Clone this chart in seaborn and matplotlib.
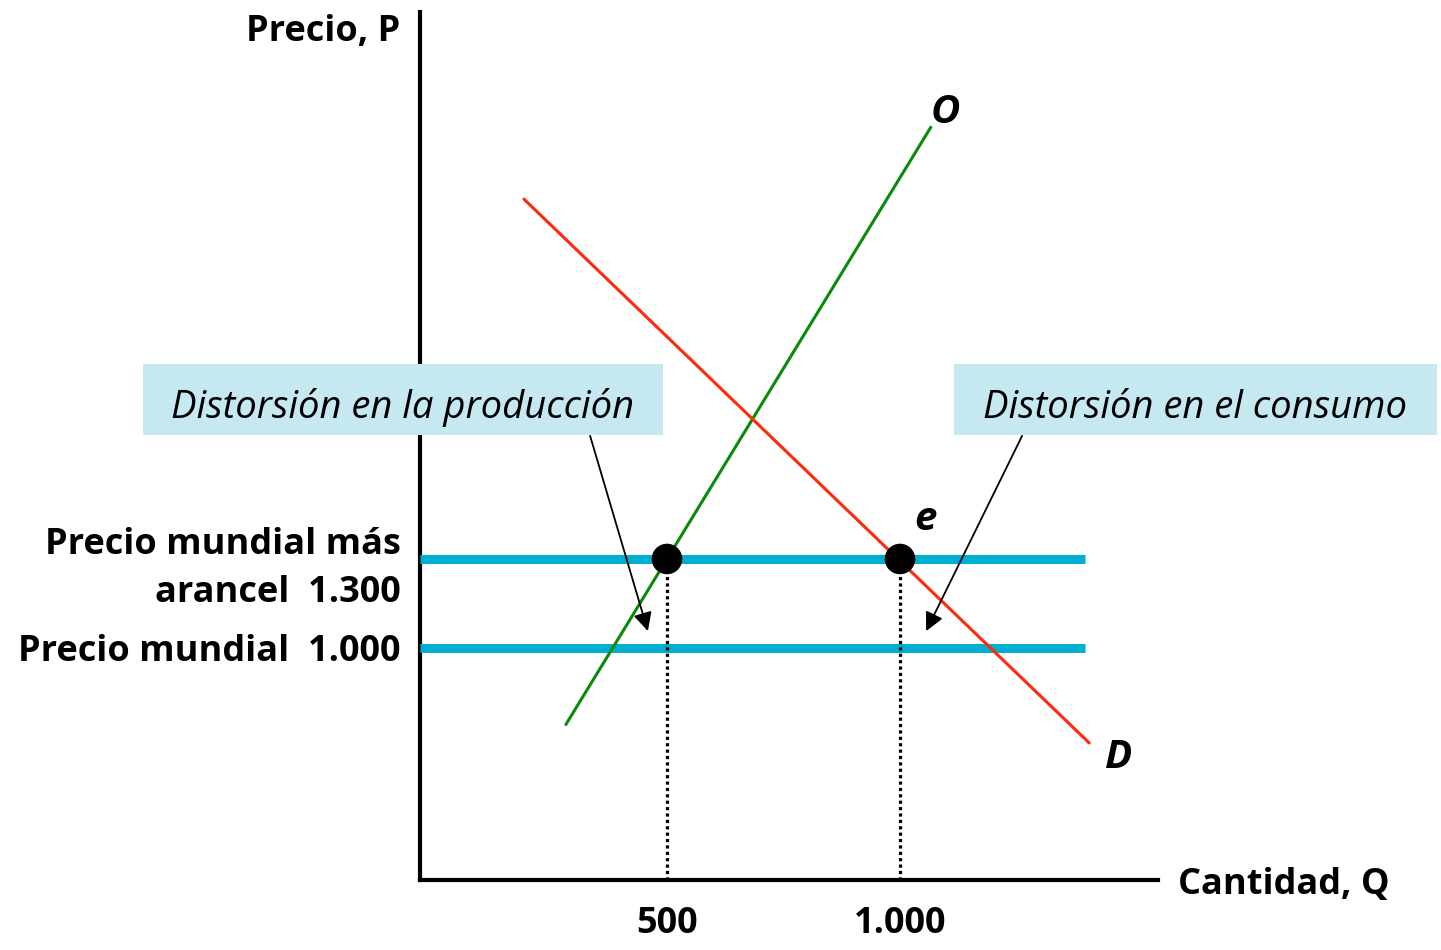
import numpy as np
import pandas as pd
import matplotlib
matplotlib.use("Agg")
import matplotlib.pyplot as plt
from matplotlib.patches import Rectangle
import seaborn as sns

# ---------------- data ----------------
supply_q = [283, 1066]
supply_p = [742, 2755]
demand_q = [193, 1406]
demand_p = [2513, 680]
world_price = 1000
tariff_price = 1300
price_line_q = [-30, 1397]
eq_q = [500, 1000]
eq_p = [1300, 1300]
x_ticks = [500, 1000]
x_tick_labels = ["500", "1.000"]
y_ticks = [1000, 1300]
y_tick_labels = ["Precio mundial  1.000", "Precio mundial más\narancel  1.300"]
box_labels = ["Distorsión en la producción", "Distorsión en el consumo"]

sns.set_theme(style="white")
plt.rcParams['font.family'] = ['Open Sans', 'DejaVu Sans']
plt.rcParams['text.color'] = 'black'
plt.rcParams['xtick.color'] = 'black'
plt.rcParams['ytick.color'] = 'black'
plt.rcParams['xtick.labelcolor'] = 'black'
plt.rcParams['ytick.labelcolor'] = 'black'

W, H = 1441, 950
fig = plt.figure(figsize=(W / 100, H / 100), dpi=100)
ax = fig.add_axes([420 / W, 70 / H, (1158 - 420) / W, (880 - 12) / H])
ax.set_xlim(-30, 1553.6)
ax.set_ylim(218, 3143.6)

for s in ["top", "right"]:
    ax.spines[s].set_visible(False)
for s in ["left", "bottom"]:
    ax.spines[s].set_linewidth(3)
    ax.spines[s].set_color("black")
    ax.spines[s].set_zorder(1)

cyan = "#00AECF"
df_s = pd.DataFrame({"q": supply_q, "p": supply_p})
df_d = pd.DataFrame({"q": demand_q, "p": demand_p})
for pr in [world_price, tariff_price]:
    ax.plot(price_line_q, [pr, pr], color=cyan, lw=6.5, solid_capstyle="butt", zorder=2, clip_on=False)
sns.lineplot(data=df_s, x="q", y="p", color="#0A8A0A", lw=2.2, ax=ax, zorder=3, sort=False)
sns.lineplot(data=df_d, x="q", y="p", color="#FF2A0A", lw=2.2, ax=ax, zorder=3, sort=False)

for q, p in zip(eq_q, eq_p):
    ax.plot([q, q], [ax.get_ylim()[0], p], color="black", lw=2.3, ls=(0, (1, 1)), zorder=2)
sns.scatterplot(x=eq_q, y=eq_p, s=22**2, color="black", edgecolor="none", ax=ax, zorder=5)

ax.set_xticks(x_ticks)
ax.set_xticklabels(x_tick_labels, fontsize=26, fontweight="bold", color="black")
ax.set_yticks(y_ticks)
ax.set_yticklabels(y_tick_labels, fontsize=26, fontweight="bold", multialignment="right",
                   linespacing=1.42, color="black")
ax.tick_params(axis="x", length=0, pad=19)
ax.tick_params(axis="y", length=0, pad=14)
ax.set_xlabel("")
ax.set_ylabel("")

ax.text(-72, 3075, "Precio, P", ha="right", va="center", fontsize=26, fontweight="bold", clip_on=False)
ax.text(1597, 200, "Cantidad, Q", ha="left", va="center", fontsize=26, fontweight="bold", clip_on=False)
ax.text(1097, 2805, "O", ha="center", va="center", fontsize=29, fontweight="bold", style="italic")
ax.text(1468, 630, "D", ha="center", va="center", fontsize=29, fontweight="bold", style="italic")
ax.text(1054, 1432, "e", ha="center", va="center", fontsize=29, fontweight="bold", style="italic")

box_color = "#C5E8F1"
boxes = [(-624.5, 1718, 1116, 239), (1116, 1718, 1036, 239)]
for (x0, y0, w, h), lab in zip(boxes, box_labels):
    ax.add_patch(Rectangle((x0, y0), w, h, facecolor=box_color, edgecolor="none", zorder=6, clip_on=False))
    ax.text(x0 + w / 2, y0 + h / 2 - 27, lab, ha="center", va="center", fontsize=27.5, style="italic",
            zorder=7, clip_on=False)

arrows = [((335, 1715), (459, 1057)), ((1262, 1715), (1056, 1057))]
for tail, head in arrows:
    ax.annotate("", xy=head, xytext=tail,
                arrowprops=dict(arrowstyle="-|>", color="black", lw=1.3, mutation_scale=28,
                                shrinkA=0, shrinkB=0), zorder=4)

fig.savefig("out.png", dpi=100)
